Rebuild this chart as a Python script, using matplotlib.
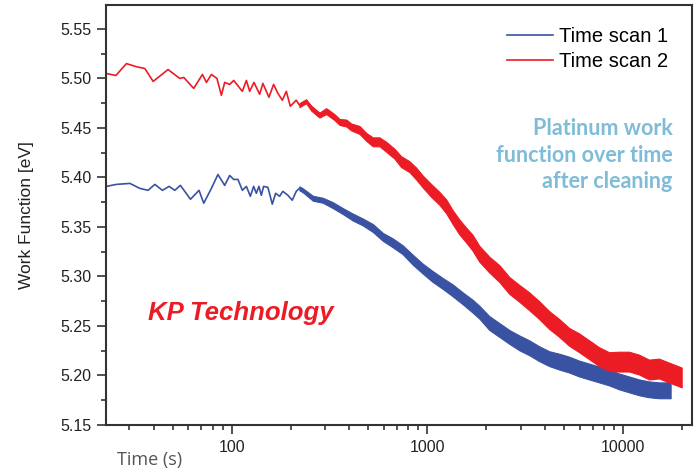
import matplotlib.pyplot as plt

# --- data (time in s, work function in eV) ---
# early part, where the single points are still visible
red_t_early = [22.9, 25.6, 29.0, 32.4, 36.0, 39.7, 47.3, 54.3, 56.9, 64.0, 70.9, 74.3, 78.8, 84.1,
               88.6, 92.1, 97.7, 102.4, 113.4, 118.9, 123.6, 130.0, 139.0, 144.4, 155.0, 163.8,
               172.3, 181.5, 190.2, 199.3, 213.8, 222.0]
red_v_early = [5.505, 5.503, 5.515, 5.512, 5.510, 5.497, 5.509, 5.500, 5.501, 5.490, 5.504, 5.496,
               5.504, 5.500, 5.483, 5.496, 5.494, 5.498, 5.487, 5.498, 5.487, 5.496, 5.484, 5.495,
               5.481, 5.494, 5.485, 5.478, 5.487, 5.472, 5.478, 5.473]

blue_t_early = [22.9, 25.8, 30.2, 33.9, 37.4, 40.5, 44.3, 47.9, 51.2, 54.7, 61.6, 68.1, 72.0, 78.8,
                85.1, 92.1, 97.7, 102.4, 107.7, 113.4, 118.9, 124.6, 129.5, 133.7, 137.8, 141.8,
                145.6, 153.2, 161.3, 167.7, 175.8, 182.7, 193.8, 204.0, 213.8, 222.0]
blue_v_early = [5.391, 5.393, 5.394, 5.389, 5.387, 5.393, 5.387, 5.391, 5.387, 5.392, 5.378, 5.387,
                5.374, 5.389, 5.403, 5.392, 5.402, 5.398, 5.398, 5.387, 5.391, 5.381, 5.391, 5.384,
                5.391, 5.382, 5.391, 5.390, 5.373, 5.384, 5.381, 5.386, 5.382, 5.377, 5.386, 5.389]

# dense noisy part: band centre and half width of the noise
red_t_band = [222, 240, 255, 281, 304, 335, 356, 385, 408, 450, 487, 526, 569, 616, 679, 734, 809,
              876, 946, 1044, 1151, 1246, 1346, 1457, 1576, 1703, 1842, 2072, 2330, 2620, 2947,
              3314, 3727, 4192, 4715, 5302, 5963, 6707, 7543, 8483, 9541, 10730, 12070, 13570,
              15270, 17170, 19930]
red_v_band = [5.473, 5.477, 5.470, 5.463, 5.467, 5.461, 5.456, 5.455, 5.451, 5.448, 5.441, 5.436,
              5.436, 5.431, 5.424, 5.416, 5.411, 5.404, 5.396, 5.387, 5.379, 5.371, 5.360, 5.350,
              5.342, 5.334, 5.323, 5.312, 5.303, 5.291, 5.283, 5.275, 5.266, 5.256, 5.248, 5.239,
              5.233, 5.226, 5.219, 5.214, 5.214, 5.214, 5.211, 5.206, 5.207, 5.203, 5.198]
red_noise = [0.002, 0.002, 0.0025, 0.0025, 0.003, 0.003, 0.003, 0.0035, 0.0035, 0.004,
             0.004, 0.0045, 0.0045, 0.005, 0.005, 0.0055, 0.0055, 0.006, 0.006, 0.0065,
             0.0065, 0.007, 0.007, 0.0075, 0.0075, 0.008, 0.008, 0.008, 0.0085, 0.0085,
             0.0085, 0.009, 0.009, 0.009, 0.009, 0.009, 0.0095, 0.0095, 0.0095, 0.0095,
             0.010, 0.010, 0.010, 0.010, 0.010, 0.010, 0.010]

blue_t_band = [222, 231, 260, 292, 329, 370, 416, 468, 526, 592, 665, 748, 841, 946, 1064, 1197,
               1346, 1514, 1703, 1842, 2072, 2330, 2620, 2947, 3314, 3727, 4192, 4715, 5302, 5963,
               6707, 7543, 8483, 9541, 10730, 12070, 13570, 15270, 17500]
blue_v_band = [5.389, 5.387, 5.379, 5.377, 5.372, 5.366, 5.360, 5.355, 5.349, 5.340, 5.334, 5.327,
               5.317, 5.308, 5.300, 5.293, 5.286, 5.278, 5.270, 5.264, 5.253, 5.246, 5.239, 5.233,
               5.228, 5.222, 5.217, 5.214, 5.211, 5.207, 5.204, 5.201, 5.198, 5.194, 5.191, 5.188,
               5.186, 5.185, 5.185]
blue_noise = [0.002, 0.002, 0.0025, 0.0025, 0.003, 0.003, 0.0035, 0.0035, 0.004, 0.004,
              0.0045, 0.0045, 0.005, 0.005, 0.0055, 0.0055, 0.006, 0.006, 0.0065, 0.0065,
              0.007, 0.007, 0.007, 0.0075, 0.0075, 0.0075, 0.0075, 0.008, 0.008, 0.008,
              0.008, 0.008, 0.008, 0.008, 0.008, 0.008, 0.008, 0.008, 0.008]

labels = ['Time scan 1', 'Time scan 2']
blue = '#3a52a2'
red = '#ec1c24'

fig = plt.figure(figsize=(6.97, 4.75), dpi=100)
ax = fig.add_axes([0.1521, 0.1053, 0.8407, 0.8842])

# scan 1 (blue)
ax.plot(blue_t_early, blue_v_early, color=blue, lw=1.2, label=labels[0])
ax.fill_between(blue_t_band,
                [v - n for v, n in zip(blue_v_band, blue_noise)],
                [v + n for v, n in zip(blue_v_band, blue_noise)],
                color=blue, lw=0.8)

# scan 2 (red)
ax.plot(red_t_early, red_v_early, color=red, lw=1.2, label=labels[1])
ax.fill_between(red_t_band,
                [v - n for v, n in zip(red_v_band, red_noise)],
                [v + n for v, n in zip(red_v_band, red_noise)],
                color=red, lw=0.8)

ax.set_xscale('log')
ax.set_xlim(22.8, 22500)
ax.set_ylim(5.15, 5.5742)
ax.set_yticks([5.15, 5.20, 5.25, 5.30, 5.35, 5.40, 5.45, 5.50, 5.55])
ax.set_yticks([5.175, 5.225, 5.275, 5.325, 5.375, 5.425, 5.475, 5.525], minor=True)
ax.set_xticks([100, 1000, 10000])
ax.set_xticklabels(['100', '1000', '10000'])

for s in ax.spines.values():
    s.set_linewidth(1.5)
    s.set_color('#333333')
ax.tick_params(which='major', length=6.5, width=1.2, color='#333333', pad=4,
               labelsize=11.5, labelcolor='#222222')
ax.tick_params(which='minor', length=3.8, width=1.2, color='#333333')
for lab in ax.get_xticklabels() + ax.get_yticklabels():
    lab.set_family('Liberation Sans')

ax.set_ylabel('Work Function [eV]', fontsize=12.5, family='Liberation Sans', color='#222222',
              labelpad=19)
fig.text(117 / 697, 1 - 460 / 475, 'Time (s)', fontsize=13, family='Open Sans',
         color='#555555', ha='left', va='center')

ax.legend(loc='upper right', bbox_to_anchor=(0.99, 0.99), frameon=False,
          prop={'family': 'Liberation Sans', 'size': 14.5},
          handlelength=2.3, handletextpad=0.3, labelspacing=0.3)

ax.text(0.967, 0.73, 'Platinum work\nfunction over time\nafter cleaning', transform=ax.transAxes,
        ha='right', va='top', fontsize=15.5, family='Lato', weight='bold', color='#7ebcd8',
        linespacing=1.32)
ax.text(148 / 697, 1 - 313 / 475, 'KP Technology', transform=fig.transFigure, ha='left',
        va='center', fontsize=18.5, family='Liberation Sans', weight='bold', style='italic',
        color=red)

fig.savefig('out.png', dpi=100)
